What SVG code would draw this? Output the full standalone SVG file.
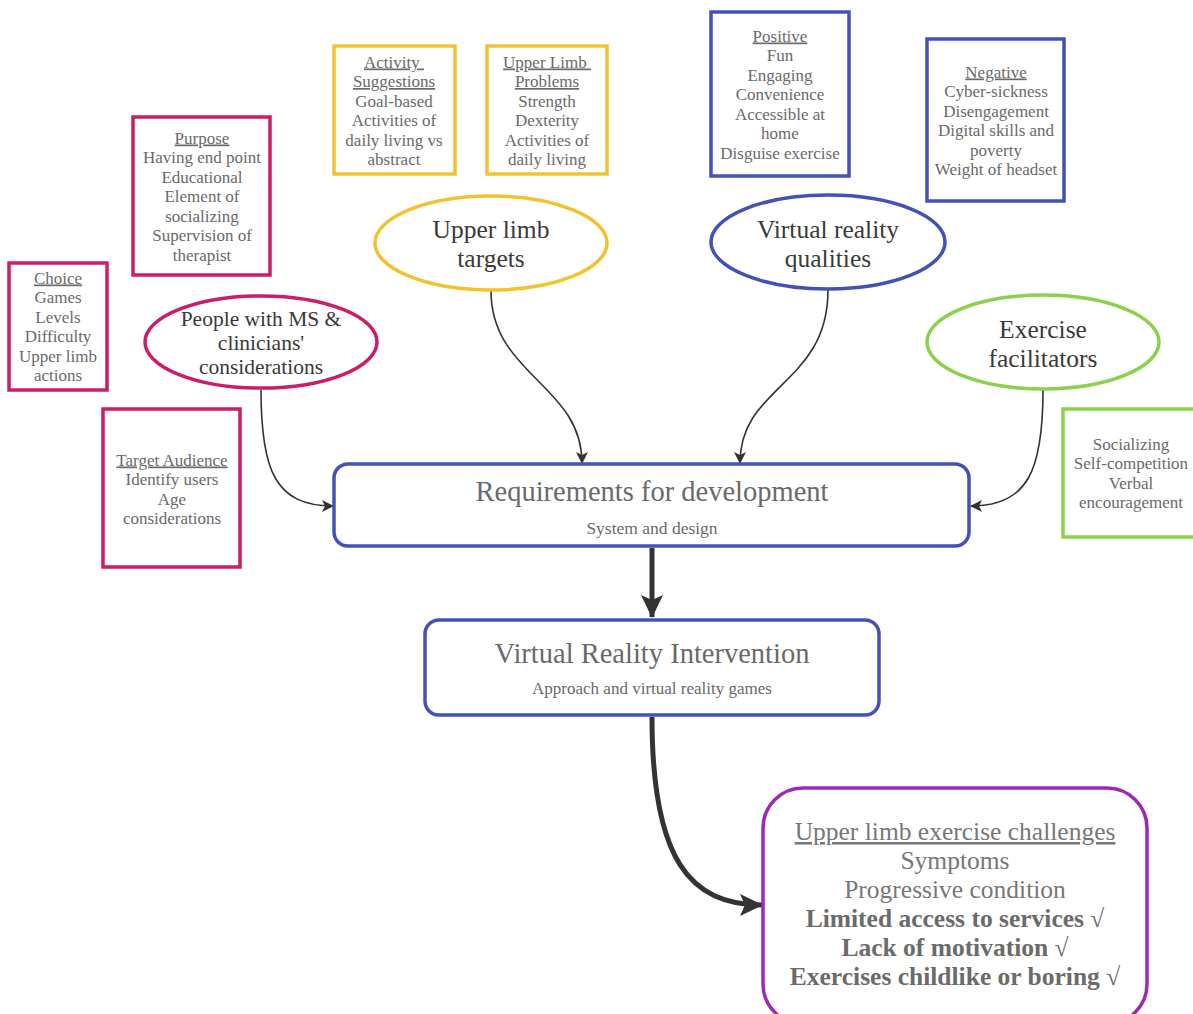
<svg xmlns="http://www.w3.org/2000/svg" width="1193" height="1014" viewBox="0 0 1193 1014" font-family="'Liberation Serif', 'DejaVu Serif', serif">
<defs>
<marker id="ah" viewBox="0 0 12 12" refX="11" refY="6" markerWidth="12" markerHeight="12" markerUnits="userSpaceOnUse" orient="auto"><path d="M0,0 L12,6 L0,12 L3,6 Z" fill="#333"/></marker>
<marker id="ahb" viewBox="0 0 24 24" refX="22" refY="12" markerWidth="24" markerHeight="24" markerUnits="userSpaceOnUse" orient="auto"><path d="M0,1 L23,12 L0,23 L5,12 Z" fill="#333"/></marker>
<style>
text{font-family:'Liberation Serif','DejaVu Serif',serif;text-anchor:middle}
.bt{font-size:17px;fill:#6a6a6a}
.u{text-decoration:underline}
.et{font-size:25.5px;fill:#3a3a3a}
.pk{fill:#fff;stroke:#cc1d6b;stroke-width:3.5}
.yl{fill:#fff;stroke:#f2c32e;stroke-width:3.5}
.bl{fill:#fff;stroke:#4451b5;stroke-width:3.5}
.gr{fill:#fff;stroke:#8bd14c;stroke-width:3.5}
.pu{fill:#fff;stroke:#9a2bb5;stroke-width:3.5}
.thin{fill:none;stroke:#333;stroke-width:1.6}
.thick{fill:none;stroke:#333;stroke-width:5}
.ct{font-size:25.5px;fill:#777}
.cb{font-size:25.5px;fill:#6b6b6b;font-weight:bold}
</style>
</defs>
<rect width="1193" height="1014" fill="#fff"/>

<g id="connectors">
<path class="thin" d="M261,390 C261,470 275,506 333,506" marker-end="url(#ah)"/>
<path class="thin" d="M491,291 C491,375 582,385 582,463" marker-end="url(#ah)"/>
<path class="thin" d="M828,290 C828,385 740,385 740,463" marker-end="url(#ah)"/>
<path class="thin" d="M1043,390 C1043,470 1028,506 971,506" marker-end="url(#ah)"/>
<path class="thick" d="M652,548 L652,617" marker-end="url(#ahb)"/>
<path class="thick" d="M652,717 C652,860 690,905 762,905" marker-end="url(#ahb)"/>
</g>

<g id="purpose">
<rect class="pk" x="133" y="117" width="137" height="158"/>
<text class="bt" x="202"><tspan class="u" x="202" y="143.5">Purpose</tspan><tspan x="202" y="163">Having end point</tspan><tspan x="202" y="182.5">Educational</tspan><tspan x="202" y="202">Element of</tspan><tspan x="202" y="221.5">socializing</tspan><tspan x="202" y="241">Supervision of</tspan><tspan x="202" y="260.5">therapist</tspan></text>
</g>

<g id="choice">
<rect class="pk" x="9" y="263" width="98" height="127"/>
<text class="bt" x="58"><tspan class="u" x="58" y="283.5">Choice</tspan><tspan x="58" y="303">Games</tspan><tspan x="58" y="322.5">Levels</tspan><tspan x="58" y="342">Difficulty</tspan><tspan x="58" y="361.5">Upper limb</tspan><tspan x="58" y="381">actions</tspan></text>
</g>

<g id="target-audience">
<rect class="pk" x="103" y="409" width="137" height="158"/>
<text class="bt" x="172"><tspan class="u" x="172" y="465.5">Target Audience</tspan><tspan x="172" y="485">Identify users</tspan><tspan x="172" y="504.5">Age</tspan><tspan x="172" y="524">considerations</tspan></text>
</g>

<g id="people">
<ellipse class="pk" cx="261" cy="342" rx="116" ry="46"/>
<text style="font-size:21.5px;fill:#3a3a3a" x="261"><tspan x="261" y="326">People with MS &amp;</tspan><tspan x="261" y="350">clinicians'</tspan><tspan x="261" y="374">considerations</tspan></text>
</g>

<g id="activity">
<rect class="yl" x="334" y="46" width="121" height="128"/>
<text class="bt" x="394"><tspan class="u" x="394" y="67.5">Activity </tspan><tspan class="u" x="394" y="87">Suggestions</tspan><tspan x="394" y="106.5">Goal-based</tspan><tspan x="394" y="126">Activities of</tspan><tspan x="394" y="145.5">daily living vs</tspan><tspan x="394" y="165">abstract</tspan></text>
</g>

<g id="ul-problems">
<rect class="yl" x="487" y="46" width="120" height="128"/>
<text class="bt" x="547"><tspan class="u" x="547" y="67.5">Upper Limb </tspan><tspan class="u" x="547" y="87">Problems</tspan><tspan x="547" y="106.5">Strength</tspan><tspan x="547" y="126">Dexterity</tspan><tspan x="547" y="145.5">Activities of</tspan><tspan x="547" y="165">daily living</tspan></text>
</g>

<g id="ul-targets">
<ellipse class="yl" cx="491" cy="243" rx="116" ry="47"/>
<text class="et" x="491"><tspan x="491" y="237.5">Upper limb</tspan><tspan x="491" y="266.5">targets</tspan></text>
</g>

<g id="positive">
<rect class="bl" x="711" y="12" width="138" height="164"/>
<text class="bt" x="780"><tspan class="u" x="780" y="41.5">Positive</tspan><tspan x="780" y="61">Fun</tspan><tspan x="780" y="80.5">Engaging</tspan><tspan x="780" y="100">Convenience</tspan><tspan x="780" y="119.5">Accessible at</tspan><tspan x="780" y="139">home</tspan><tspan x="780" y="158.5">Disguise exercise</tspan></text>
</g>

<g id="negative">
<rect class="bl" x="927" y="39" width="137" height="162"/>
<text class="bt" x="996"><tspan class="u" x="996" y="77.5">Negative</tspan><tspan x="996" y="97">Cyber-sickness</tspan><tspan x="996" y="116.5">Disengagement</tspan><tspan x="996" y="136">Digital skills and</tspan><tspan x="996" y="155.5">poverty</tspan><tspan x="996" y="175">Weight of headset</tspan></text>
</g>

<g id="vr-qualities">
<ellipse class="bl" cx="828" cy="242" rx="117" ry="47"/>
<text class="et" x="828"><tspan x="828" y="237.5">Virtual reality</tspan><tspan x="828" y="266.5">qualities</tspan></text>
</g>

<g id="exercise-facilitators">
<ellipse class="gr" cx="1043" cy="342" rx="116" ry="47"/>
<text class="et" x="1043"><tspan x="1043" y="337.5">Exercise</tspan><tspan x="1043" y="366.5">facilitators</tspan></text>
</g>

<g id="facilitators-list">
<rect class="gr" x="1063" y="409" width="140" height="128"/>
<text class="bt" x="1131"><tspan x="1131" y="449.5">Socializing</tspan><tspan x="1131" y="469">Self-competition</tspan><tspan x="1131" y="488.5">Verbal</tspan><tspan x="1131" y="508">encouragement</tspan></text>
</g>

<g id="requirements">
<rect class="bl" x="334" y="464" width="635" height="82" rx="14"/>
<text x="652" y="501" style="font-size:28.5px;fill:#6a6a6a">Requirements for development</text>
<text x="652" y="533.5" style="font-size:17.5px;fill:#6a6a6a">System and design</text>
</g>

<g id="vr-intervention">
<rect class="bl" x="425" y="620" width="454" height="95" rx="14"/>
<text x="652" y="662.5" style="font-size:28.5px;fill:#6a6a6a">Virtual Reality Intervention</text>
<text x="652" y="693.5" style="font-size:17px;fill:#6a6a6a">Approach and virtual reality games</text>
</g>

<g id="challenges">
<rect class="pu" x="763" y="788" width="384" height="236" rx="40"/>
<text x="955"><tspan class="ct u" x="955" y="840">Upper limb exercise challenges</tspan><tspan class="ct" x="955" y="869">Symptoms</tspan><tspan class="ct" x="955" y="898">Progressive condition</tspan><tspan class="cb" x="955" y="927">Limited access to services √</tspan><tspan class="cb" x="955" y="956">Lack of motivation √</tspan><tspan class="cb" x="955" y="985">Exercises childlike or boring √</tspan></text>
</g>
</svg>
